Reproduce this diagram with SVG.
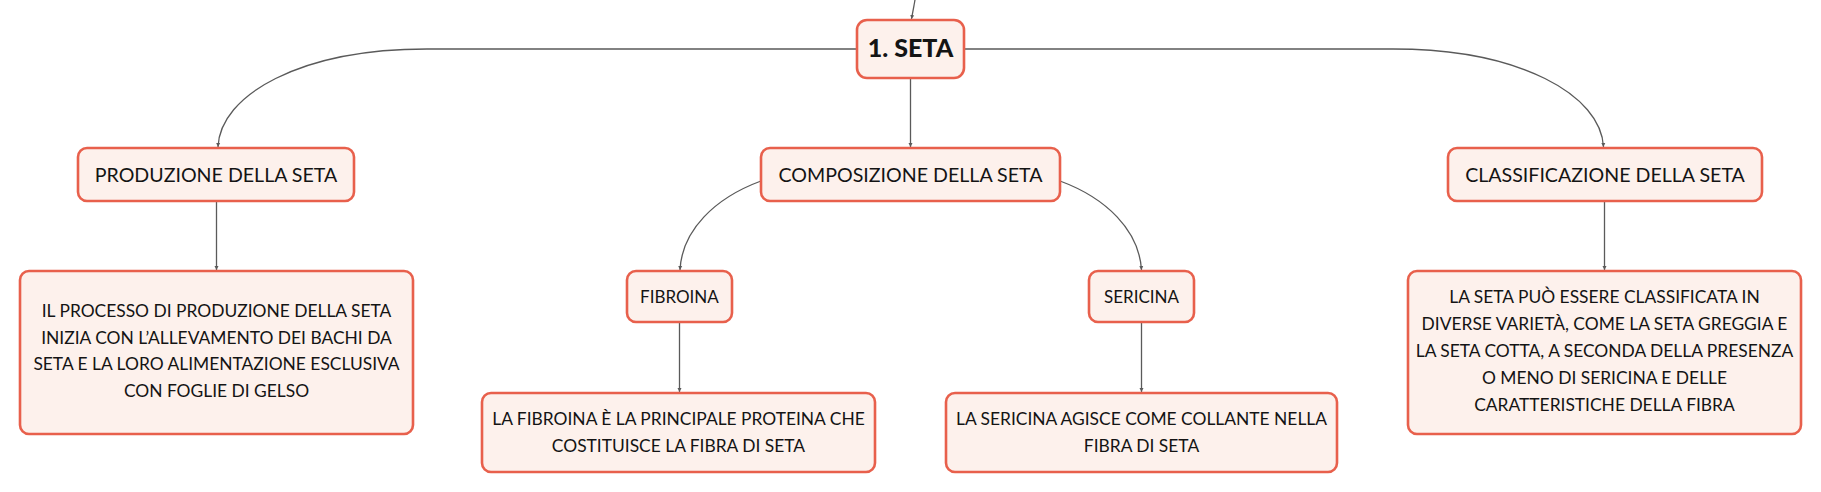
<svg xmlns="http://www.w3.org/2000/svg" width="1821" height="492" viewBox="0 0 1821 492">
<style>
.box{fill:#FDF1EC;stroke:#E8604C;stroke-width:2.6}
.t{font-family:Lato,"Noto Sans","Liberation Sans",sans-serif;fill:#141414;text-anchor:middle}
.h{font-size:19.6px}
.s{font-size:17.4px}
.m{font-size:17px}
.root{font-size:25px;font-weight:900}
.c{fill:none;stroke:#5a5a5a;stroke-width:1.3;marker-end:url(#arr)}
</style>
<defs>
<marker id="arr" markerUnits="userSpaceOnUse" markerWidth="6" markerHeight="6" refX="4" refY="2.5" orient="auto">
<path d="M0,0.5 L4,2.5 L0,4.5 Z" fill="#5a5a5a"/>
</marker>
</defs>
<rect width="1821" height="492" fill="#ffffff"/>
<g id="connectors">
<path class="c" d="M915,0 L911.5,19"/>
<path class="c" d="M857,49 L427,49 C300,49 220,95 218,147"/>
<path class="c" d="M964,49 L1393,49 C1520,49 1601,95 1603.5,147"/>
<path class="c" d="M910.5,79 L910.5,147"/>
<path class="c" d="M761,181 C715,198 682,230 680,270"/>
<path class="c" d="M1060,181 C1106,198 1139,230 1141.5,270"/>
<path class="c" d="M216.5,201 L216.5,270"/>
<path class="c" d="M679.5,322 L679.5,392"/>
<path class="c" d="M1141.5,322 L1141.5,392"/>
<path class="c" d="M1604.5,201 L1604.5,270"/>
</g>
<g id="root">
<rect class="box" x="857" y="20" width="107" height="58" rx="10"/>
<text class="t root" x="910.5" y="57">1. SETA</text>
</g>
<g id="produzione">
<rect class="box" x="78" y="148" width="276" height="53" rx="9"/>
<text class="t h" x="216" y="182">PRODUZIONE DELLA SETA</text>
</g>
<g id="composizione">
<rect class="box" x="761" y="148" width="299" height="53" rx="9"/>
<text class="t h" x="910.5" y="182">COMPOSIZIONE DELLA SETA</text>
</g>
<g id="classificazione">
<rect class="box" x="1448" y="148" width="314" height="53" rx="9"/>
<text class="t h" x="1605" y="182">CLASSIFICAZIONE DELLA SETA</text>
</g>
<g id="produzione-testo">
<rect class="box" x="20" y="271" width="393" height="163" rx="9"/>
<text class="t s" x="216.5" y="317">IL PROCESSO DI PRODUZIONE DELLA SETA</text>
<text class="t s" x="216.5" y="343.5">INIZIA CON L’ALLEVAMENTO DEI BACHI DA</text>
<text class="t s" x="216.5" y="370">SETA E LA LORO ALIMENTAZIONE ESCLUSIVA</text>
<text class="t s" x="216.5" y="397">CON FOGLIE DI GELSO</text>
</g>
<g id="fibroina">
<rect class="box" x="627" y="271" width="105" height="51" rx="9"/>
<text class="t m" x="679.5" y="303">FIBROINA</text>
</g>
<g id="sericina">
<rect class="box" x="1089" y="271" width="105" height="51" rx="9"/>
<text class="t m" x="1141.5" y="303">SERICINA</text>
</g>
<g id="fibroina-testo">
<rect class="box" x="482" y="393" width="393" height="79" rx="9"/>
<text class="t s" x="678.5" y="425">LA FIBROINA È LA PRINCIPALE PROTEINA CHE</text>
<text class="t s" x="678.5" y="452">COSTITUISCE LA FIBRA DI SETA</text>
</g>
<g id="sericina-testo">
<rect class="box" x="946" y="393" width="391" height="79" rx="9"/>
<text class="t s" x="1141.5" y="425">LA SERICINA AGISCE COME COLLANTE NELLA</text>
<text class="t s" x="1141.5" y="452">FIBRA DI SETA</text>
</g>
<g id="classificazione-testo">
<rect class="box" x="1408" y="271" width="393" height="163" rx="9"/>
<text class="t s" x="1604.5" y="303">LA SETA PUÒ ESSERE CLASSIFICATA IN</text>
<text class="t s" x="1604.5" y="330">DIVERSE VARIETÀ, COME LA SETA GREGGIA E</text>
<text class="t s" x="1604.5" y="357">LA SETA COTTA, A SECONDA DELLA PRESENZA</text>
<text class="t s" x="1604.5" y="384">O MENO DI SERICINA E DELLE</text>
<text class="t s" x="1604.5" y="411">CARATTERISTICHE DELLA FIBRA</text>
</g>
</svg>
